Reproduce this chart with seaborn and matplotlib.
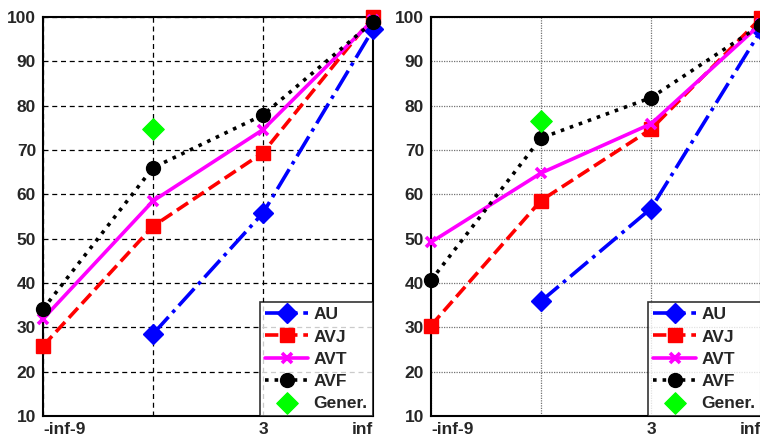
import numpy as np
import pandas as pd
import matplotlib
matplotlib.use("Agg")
import matplotlib.pyplot as plt
import seaborn as sns

################ DATA ################
x_pos = [1, 2, 3, 4]
x_labels = ['-inf-9', '', '3', 'inf']
y_ticks = [10, 20, 30, 40, 50, 60, 70, 80, 90, 100]

# left panel
au_left = [np.nan, 28.5, 55.8, 97.2]
avj_left = [25.8, 52.8, 69.4, 100.0]
avt_left = [31.9, 58.5, 74.6, 99.3]
avf_left = [34.1, 66.0, 77.9, 98.9]
gen_left = 74.7

# right panel
au_right = [np.nan, 35.9, 56.8, 97.0]
avj_right = [30.4, 58.6, 74.7, 99.8]
avt_right = [49.2, 64.8, 75.9, 98.5]
avf_right = [40.6, 72.7, 81.8, 98.2]
gen_right = 76.6

series_names = ['AU', 'AVJ', 'AVT', 'AVF']
colors = ['#0000ff', '#ff0000', '#ff00ff', '#000000']
markers = ['D', 's', 'x', 'o']
styles = ['-.', '--', '-', ':']

################ STYLE ################
sns.set_style("white")
plt.rcParams['font.family'] = ['Liberation Sans', 'DejaVu Sans']
plt.rcParams['font.weight'] = 'bold'
plt.rcParams['font.size'] = 12.5

fig = plt.figure(figsize=(7.6, 4.37), dpi=100)
ax_l = fig.add_axes([43 / 760, 21 / 437, 330 / 760, 399 / 437])
ax_r = fig.add_axes([431 / 760, 21 / 437, 330 / 760, 399 / 437])


def draw_panel(ax, values, gen_value, grid_kw):
    for name, vals, c, m, ls in zip(series_names, values, colors, markers, styles):
        df = pd.DataFrame({'x': x_pos, 'y': vals}).dropna()
        msize = 7 if m == 'x' else 10
        sns.lineplot(data=df, x='x', y='y', ax=ax, color=c, marker=m,
                     linestyle=ls, linewidth=2.6, markersize=msize,
                     markeredgewidth=2.6 if m == 'x' else 1,
                     markeredgecolor=c, label=name, clip_on=False, zorder=3)
    sns.scatterplot(x=[2], y=[gen_value], ax=ax, color='#00ff00', marker='D',
                    s=120, edgecolor='#00ff00', label='Gener.', zorder=3)

    ax.set_xlim(1, 4)
    ax.set_ylim(10, 100)
    ax.set_xticks(x_pos)
    ax.set_xticklabels(x_labels, fontweight='bold', fontsize=12.5)
    ax.set_yticks(y_ticks)
    ax.set_yticklabels([str(t) for t in y_ticks], fontweight='bold', fontsize=12.5)
    ax.set_xlabel('')
    ax.set_ylabel('')
    ax.grid(True, **grid_kw)
    ax.set_axisbelow(True)
    ax.tick_params(axis='y', length=0, pad=5)
    ax.tick_params(axis='x', length=0, pad=4)
    lbls = ax.get_xticklabels()
    lbls[0].set_horizontalalignment('left')
    lbls[-1].set_horizontalalignment('right')
    for sp in ax.spines.values():
        sp.set_visible(True)
        sp.set_color('black')
        sp.set_linewidth(1.5)

    leg = ax.legend(loc='lower right', prop={'weight': 'bold', 'size': 12.5},
                    handlelength=2.5, borderaxespad=0, frameon=True,
                    fancybox=False, borderpad=0.3, labelspacing=0.4,
                    handletextpad=0.3)
    leg.get_frame().set_edgecolor('black')
    leg.get_frame().set_linewidth(1.2)
    leg.set_zorder(5)


draw_panel(ax_l, [au_left, avj_left, avt_left, avf_left], gen_left,
           dict(color='black', linestyle=(0, (4, 3)), linewidth=0.9))
draw_panel(ax_r, [au_right, avj_right, avt_right, avf_right], gen_right,
           dict(color='0.45', linestyle=(0, (1, 1)), linewidth=0.9))

fig.savefig("out.png", dpi=100)
